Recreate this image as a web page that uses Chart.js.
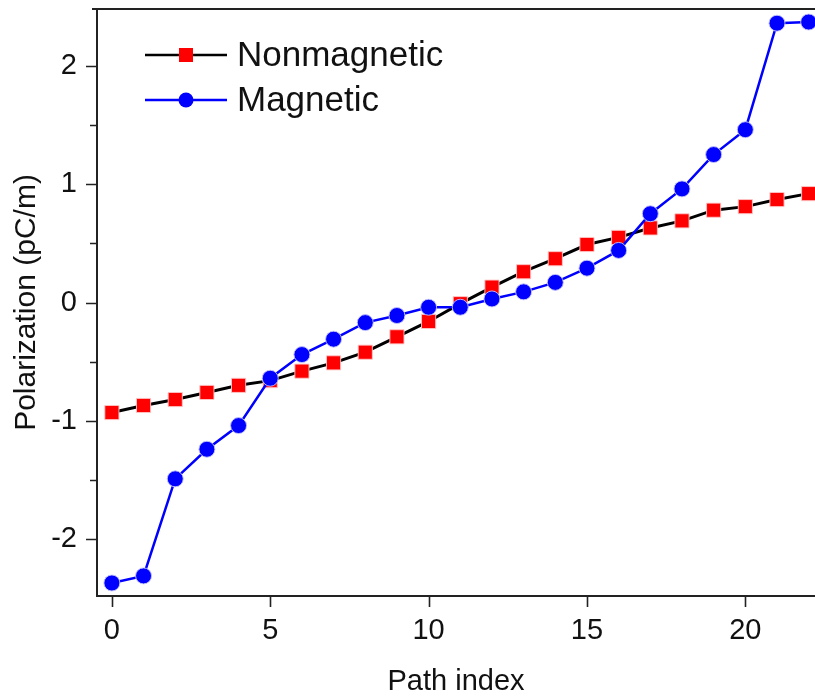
<!DOCTYPE html>
<html>
<head>
<meta charset="utf-8">
<script src="https://cdn.jsdelivr.net/npm/chart.js@4/dist/chart.umd.min.js"></script>
<style>
  html, body { margin: 0; padding: 0; background: #fff; }
  #wrap { width: 815px; height: 698px; position: relative; }
</style>
</head>
<body>
<div id="wrap"><canvas id="c" width="815" height="698"></canvas></div>
<script>
// ---- data ----
const pathIndex = [0,1,2,3,4,5,6,7,8,9,10,11,12,13,14,15,16,17,18,19,20,21,22];
const nonmagnetic = [-0.93,-0.87,-0.82,-0.76,-0.70,-0.66,-0.58,-0.51,-0.42,-0.29,-0.16,-0.01,0.13,0.26,0.37,0.49,0.55,0.63,0.69,0.78,0.81,0.87,0.92];
const magnetic = [-2.37,-2.31,-1.49,-1.24,-1.04,-0.64,-0.44,-0.31,-0.17,-0.11,-0.04,-0.04,0.03,0.09,0.17,0.29,0.44,0.75,0.96,1.25,1.46,2.36,2.37];
const seriesNames = ['Nonmagnetic', 'Magnetic'];
const xTickValues = [0,5,10,15,20];
const xTickLabels = ['0','5','10','15','20'];
const yTickValues = [-2,-1,0,1,2];
const yTickLabels = ['-2','-1','0','1','2'];
const yMinorTickValues = [-2.5,-1.5,-0.5,0.5,1.5,2.5];
const xTitle = 'Path index';
const yTitle = 'Polarization (pC/m)';

const FONT = "Arial, 'Liberation Sans', sans-serif";

const toPts = (ys) => ys.map((v, i) => ({ x: pathIndex[i], y: v }));

const zeroPad = (s) => { s.paddingTop = 0; s.paddingBottom = 0; s.paddingLeft = 0; s.paddingRight = 0; };

const framePlugin = {
  id: 'frame',
  afterDraw(chart) {
    const { ctx, chartArea: a, scales: { x, y } } = chart;
    ctx.save();
    ctx.strokeStyle = '#222';
    ctx.lineWidth = 2;
    ctx.beginPath();
    ctx.moveTo(a.left - 5, a.top);
    ctx.lineTo(a.right, a.top);
    ctx.stroke();
    ctx.lineWidth = 1.6;
    ctx.beginPath();
    xTickValues.forEach(v => {
      const px = Math.round(x.getPixelForValue(v)) + 0.5;
      ctx.moveTo(px, a.bottom);
      ctx.lineTo(px, a.bottom + 11);
    });
    yTickValues.forEach(v => {
      const py = Math.round(y.getPixelForValue(v)) + 0.5;
      ctx.moveTo(a.left, py);
      ctx.lineTo(a.left - 11, py);
    });
    yMinorTickValues.forEach(v => {
      if (v < y.min || v > y.max) return;
      const py = Math.round(y.getPixelForValue(v)) + 0.5;
      ctx.moveTo(a.left, py);
      ctx.lineTo(a.left - 7, py);
    });
    ctx.stroke();

    // legend
    const rows = [
      { name: seriesNames[0], line: '#000', fill: '#ff0000', shape: 'rect', y: 55 },
      { name: seriesNames[1], line: '#0000ff', fill: '#0000ff', shape: 'circle', y: 100 }
    ];
    rows.forEach(r => {
      ctx.strokeStyle = r.line;
      ctx.lineWidth = 2.5;
      ctx.beginPath();
      ctx.moveTo(145, r.y);
      ctx.lineTo(227, r.y);
      ctx.stroke();
      ctx.fillStyle = r.fill;
      ctx.beginPath();
      if (r.shape === 'rect') ctx.rect(186 - 7, r.y - 7, 14, 14);
      else ctx.arc(186, r.y, 7.5, 0, Math.PI * 2);
      ctx.fill();
      ctx.fillStyle = '#111';
      ctx.font = '35px ' + FONT;
      ctx.textBaseline = 'middle';
      ctx.textAlign = 'left';
      ctx.fillText(r.name, 237, r.y + 1);
    });
    ctx.restore();
  }
};

new Chart(document.getElementById('c'), {
  type: 'line',
  data: {
    datasets: [
      {
        label: seriesNames[0],
        data: toPts(nonmagnetic),
        borderColor: '#000',
        borderWidth: 3,
        pointStyle: 'rect',
        pointRadius: 10,
        pointBackgroundColor: '#ff0000',
        pointBorderColor: 'rgba(255,200,200,0.9)',
        pointBorderWidth: 1,
        clip: false,
        order: 1
      },
      {
        label: seriesNames[1],
        data: toPts(magnetic),
        borderColor: '#0000ff',
        borderWidth: 2.5,
        pointStyle: 'circle',
        pointRadius: 8,
        pointBackgroundColor: '#0000ff',
        pointBorderColor: 'rgba(200,200,255,0.9)',
        pointBorderWidth: 1,
        clip: false,
        order: 0
      }
    ]
  },
  options: {
    responsive: false,
    animation: false,
    events: [],
    layout: { autoPadding: false, padding: { top: 9, right: 0, left: 0, bottom: 0 } },
    plugins: { legend: { display: false }, tooltip: { enabled: false } },
    scales: {
      x: {
        type: 'linear',
        min: -0.47,
        max: 22.2,
        afterBuildTicks: (s) => { s.ticks = xTickValues.map(v => ({ value: v })); },
        afterFit: (s) => { s.height = 102; zeroPad(s); },
        ticks: {
          callback: (v) => xTickLabels[xTickValues.indexOf(v)] ?? '',
          font: { family: FONT, size: 29 },
          color: '#111',
          padding: 18,
          maxRotation: 0,
          autoSkip: false
        },
        grid: { display: true, drawOnChartArea: false, drawTicks: false },
        border: { display: true, color: '#222', width: 2 },
        title: {
          display: true,
          text: xTitle,
          font: { family: FONT, size: 29, lineHeight: 1 },
          color: '#111',
          padding: { top: 2, bottom: 2 }
        }
      },
      y: {
        min: -2.48,
        max: 2.48,
        afterBuildTicks: (s) => { s.ticks = yTickValues.map(v => ({ value: v })); },
        afterFit: (s) => { s.width = 97; zeroPad(s); },
        ticks: {
          callback: (v) => yTickLabels[yTickValues.indexOf(v)] ?? '',
          font: { family: FONT, size: 29 },
          color: '#111',
          padding: 20
        },
        grid: { display: true, drawOnChartArea: false, drawTicks: false },
        border: { display: true, color: '#222', width: 2 },
        title: {
          display: true,
          text: yTitle,
          font: { family: FONT, size: 30, lineHeight: 1 },
          color: '#111',
          padding: { top: 12, bottom: 12 }
        }
      }
    }
  },
  plugins: [framePlugin]
});
</script>
</body>
</html>
